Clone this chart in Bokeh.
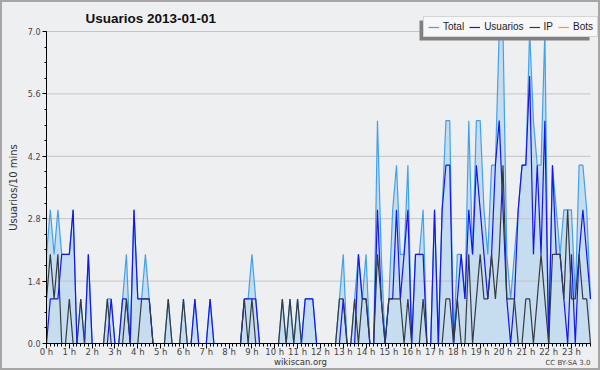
from bokeh.plotting import figure
from bokeh.models import Range1d, FixedTicker, Legend, Label, BoxAnnotation, ColumnDataSource
from bokeh.embed import file_html
from bokeh.resources import INLINE

# 10-minute slots of the day (minutes since midnight)
minutes = list(range(0, 1440, 10))

total = [
    2, 3, 2, 3, 2, 2,  2, 3, 0, 1, 0, 2,  0, 0, 0, 0, 1, 1,  0, 0, 1, 2, 0, 3,
    1, 1, 2, 1, 0, 0,  0, 0, 1, 0, 0, 0,  1, 0, 0, 1, 0, 0,  0, 1, 0, 0, 0, 0,
    0, 0, 0, 0, 1, 1,  2, 1, 0, 0, 0, 0,  0, 0, 1, 0, 1, 0,  1, 0, 1, 1, 1, 0,
    0, 0, 0, 0, 0, 1,  2, 0, 0, 1, 2, 1,  2, 0, 0, 5, 2, 0,  1, 3, 4, 2, 2, 4,
    0, 2, 2, 3, 0, 0,  3, 0, 3, 5, 5, 0,  2, 2, 1, 5, 2, 5,  5, 3, 2, 4, 4, 7,
    7, 2, 1, 2, 3, 4,  4, 7, 5, 4, 4, 7,  0, 4, 3, 2, 3, 3,  3, 1, 4, 4, 3, 1,
]
usuarios = [
    0, 1, 1, 1, 2, 2,  2, 3, 0, 0, 0, 2,  0, 0, 0, 0, 0, 1,  0, 0, 1, 1, 0, 3,
    1, 1, 1, 1, 0, 0,  0, 0, 0, 0, 0, 0,  0, 0, 0, 1, 0, 0,  0, 1, 0, 0, 0, 0,
    0, 0, 0, 0, 1, 1,  1, 1, 0, 0, 0, 0,  0, 0, 0, 0, 0, 0,  0, 0, 1, 1, 1, 0,
    0, 0, 0, 0, 0, 0,  1, 0, 0, 0, 2, 1,  1, 0, 0, 3, 1, 0,  1, 1, 3, 1, 2, 3,
    0, 2, 2, 2, 0, 0,  3, 0, 3, 4, 4, 0,  1, 2, 1, 3, 2, 4,  3, 2, 1, 2, 4, 5,
    3, 1, 0, 1, 3, 4,  4, 6, 2, 4, 2, 5,  0, 4, 2, 2, 1, 0,  2, 0, 2, 3, 2, 1,
]
ip = [
    1, 2, 1, 2, 0, 0,  1, 0, 0, 1, 0, 0,  0, 0, 0, 0, 1, 0,  0, 0, 0, 1, 0, 0,
    0, 1, 1, 1, 0, 0,  0, 0, 1, 0, 0, 0,  1, 0, 0, 0, 0, 0,  0, 0, 0, 0, 0, 0,
    0, 0, 0, 0, 1, 0,  1, 0, 0, 0, 0, 0,  0, 0, 1, 0, 1, 0,  1, 0, 0, 0, 0, 0,
    0, 0, 0, 0, 0, 1,  1, 0, 0, 1, 0, 1,  1, 0, 0, 2, 1, 0,  1, 1, 1, 1, 0, 1,
    0, 0, 0, 1, 0, 0,  0, 0, 0, 1, 1, 0,  1, 0, 0, 2, 0, 1,  2, 1, 1, 2, 1, 2,
    4, 1, 1, 1, 0, 0,  1, 1, 0, 1, 2, 1,  0, 2, 2, 2, 1, 3,  1, 1, 2, 1, 1, 0,
]
bots = [0] * 144

title_text = "Usuarios  2013-01-01"
y_ticks = [0.0, 1.4, 2.8, 4.2, 5.6, 7.0]
y_tick_labels = ["0.0", "1.4", "2.8", "4.2", "5.6", "7.0"]
y_minor = [k * 0.35 for k in range(21)]
hours = list(range(24))
hour_labels = [f"{h} h" for h in hours]

x_hours = [m / 60 for m in minutes]
src = ColumnDataSource(dict(x=x_hours, total=total, usuarios=usuarios,
                            ip=ip, bots=bots, zero=[0] * len(minutes)))

BG = "#eeeff1"
W, H = 600, 370
# pixel geometry of the plotting area inside the canvas
LEFT_PX, RIGHT_PX, TOP_PX, ZERO_PX = 46, 590, 31, 343
X_END = x_hours[-1]
PPH = (RIGHT_PX - LEFT_PX) / X_END          # pixels per hour
PPU = (ZERO_PX - TOP_PX) / 7                # pixels per user


def xd(px):
    return (px - LEFT_PX) / PPH


def yd(py):
    return (ZERO_PX - py) / PPU


p = figure(width=W, height=H, title=None,
           x_range=Range1d(xd(0), xd(W)), y_range=Range1d(yd(H), yd(0)),
           output_backend="svg", toolbar_location=None,
           min_border_left=0, min_border_right=0, min_border_top=0,
           min_border_bottom=0)
p.background_fill_color = BG
p.border_fill_color = BG
p.outline_line_color = "#a6a6a6"
p.outline_line_width = 3

# axes pinned inside the full-canvas frame
p.xaxis.fixed_location = 0
p.xaxis.bounds = (0, X_END)
p.xaxis.ticker = FixedTicker(ticks=hours, minor_ticks=x_hours)
p.xaxis.major_label_overrides = {h: lab for h, lab in zip(hours, hour_labels)}

p.yaxis.fixed_location = 0
p.yaxis.bounds = (0, 7)
p.yaxis.ticker = FixedTicker(ticks=y_ticks, minor_ticks=y_minor)
p.yaxis.major_label_overrides = {t: lab for t, lab in zip(y_ticks, y_tick_labels)}
p.yaxis.axis_label = "Usuarios/10 mins"

for ax in (p.xaxis[0], p.yaxis[0]):
    ax.axis_line_color = "#000000"
    ax.major_tick_line_color = "#000000"
    ax.minor_tick_line_color = "#000000"
    ax.major_tick_in = 0
    ax.minor_tick_in = 0
    ax.major_label_text_font = "DejaVu Sans"
    ax.major_label_text_color = "#444444"
    ax.axis_label_text_font = "DejaVu Sans"
    ax.axis_label_text_font_style = "normal"
    ax.axis_label_text_color = "#333333"
    ax.axis_label_text_font_size = "10px"

p.xaxis.major_tick_out = 5
p.xaxis.minor_tick_out = 3
p.xaxis.major_label_text_font_size = "8.5px"
p.xaxis.major_label_standoff = -2
p.yaxis.major_tick_out = 4
p.yaxis.minor_tick_out = 2
p.yaxis.major_label_text_font_size = "8px"
p.yaxis.major_label_standoff = 2
p.yaxis.axis_label_standoff = 6

p.xgrid.visible = False
p.ygrid.visible = False

# area under the total
p.varea(x="x", y1="zero", y2="total", source=src, fill_color="#c6dcef")
# horizontal guide lines at the y ticks, from the y axis to the right edge
p.segment(x0=[0] * len(y_ticks), x1=[X_END] * len(y_ticks), y0=y_ticks,
          y1=y_ticks, line_color="#c4c4c4", line_width=1)

r_bots = p.line("x", "bots", source=src, line_color="#ffa000", line_width=1.2)
r_total = p.line("x", "total", source=src, line_color="#40a2ee", line_width=1.2)
r_users = p.line("x", "usuarios", source=src, line_color="#1515f0", line_width=1.2)
r_ip = p.line("x", "ip", source=src, line_color="#353b42", line_width=1.2)

# legend shadow
p.add_layout(BoxAnnotation(left=xd(419), right=xd(589), top=yd(20), bottom=yd(40),
                           fill_color="#808080", fill_alpha=1, line_color=None))

legend = Legend(items=[("Total", [r_total]), ("Usuarios", [r_users]),
                       ("IP", [r_ip]), ("Bots", [r_bots])],
                orientation="horizontal", location=(423, H - 37))
legend.label_text_font = "Liberation Sans"
legend.label_text_font_size = "10px"
legend.label_text_color = "#222222"
legend.glyph_width = 11
legend.glyph_height = 10
legend.label_standoff = 4
legend.label_width = 4
legend.spacing = 5
legend.padding = 4
legend.margin = 0
legend.label_height = 10
legend.border_line_color = "#b4b4b4"
legend.border_line_width = 1
legend.background_fill_color = "#f7f7f7"
legend.background_fill_alpha = 1
p.add_layout(legend)

p.add_layout(Label(x=xd(85), y=yd(18), text=title_text, text_align="left",
                   text_baseline="middle", text_font="Liberation Sans",
                   text_font_size="13.5px", text_font_style="bold",
                   text_color="#111111"))

p.add_layout(Label(x=xd(300), y=yd(361), text="wikiscan.org", text_align="center",
                   text_baseline="middle", text_font="DejaVu Sans",
                   text_font_size="8.5px", text_color="#333333"))

p.add_layout(Label(x=X_END, y=yd(362), text="CC BY-SA 3.0",
                   text_align="right", text_baseline="middle",
                   text_font="DejaVu Sans", text_font_size="7px",
                   text_color="#444444"))

open("out.html", "w").write(file_html(p, INLINE))
